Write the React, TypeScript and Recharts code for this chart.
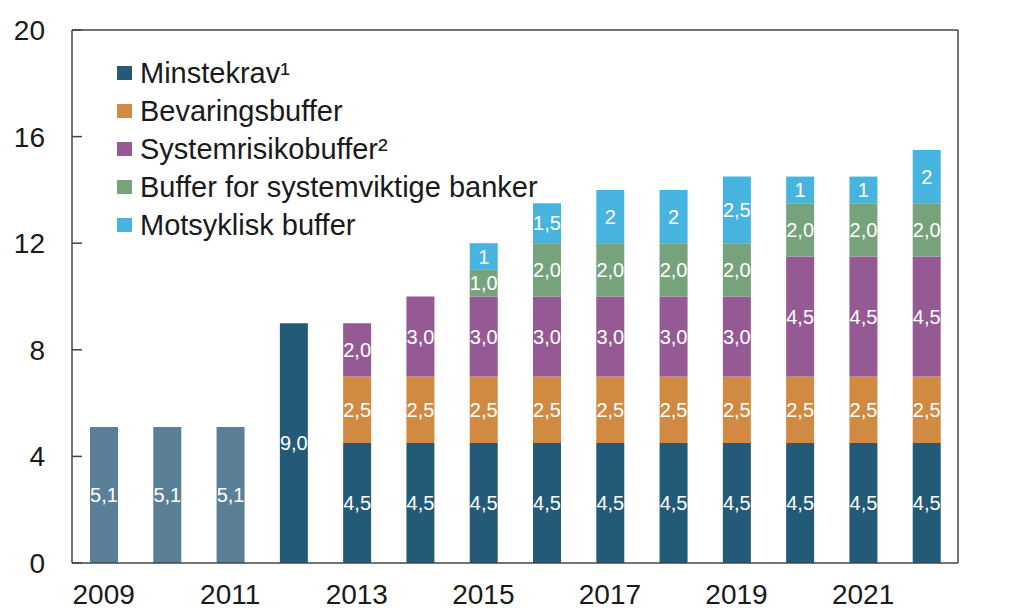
import {
  BarChart,
  Bar,
  XAxis,
  YAxis,
  Cell,
  LabelList,
  ReferenceLine
} from 'recharts';

const years = ['2009', '2010', '2011', '2012', '2013', '2014', '2015', '2016', '2017', '2018', '2019', '2020', '2021', '2022'];
const minstekrav = [5.1, 5.1, 5.1, 9.0, 4.5, 4.5, 4.5, 4.5, 4.5, 4.5, 4.5, 4.5, 4.5, 4.5];
const bevaringsbuffer = [null, null, null, null, 2.5, 2.5, 2.5, 2.5, 2.5, 2.5, 2.5, 2.5, 2.5, 2.5];
const systemrisikobuffer = [null, null, null, null, 2.0, 3.0, 3.0, 3.0, 3.0, 3.0, 3.0, 4.5, 4.5, 4.5];
const systemviktige = [null, null, null, null, null, null, 1.0, 2.0, 2.0, 2.0, 2.0, 2.0, 2.0, 2.0];
const motsyklisk = [null, null, null, null, null, null, 1, 1.5, 2, 2, 2.5, 1, 1, 2];
const yTicks = [0, 4, 8, 12, 16, 20];

const EARLY = '#5b7f97';
const COLORS = {
  minstekrav: '#235a78',
  bevaring: '#d08a42',
  systemrisiko: '#955a93',
  systemviktige: '#76a37b',
  motsyklisk: '#47b4e0'
};

const legendItems = [
  { label: 'Minstekrav¹', color: COLORS.minstekrav },
  { label: 'Bevaringsbuffer', color: COLORS.bevaring },
  { label: 'Systemrisikobuffer²', color: COLORS.systemrisiko },
  { label: 'Buffer for systemviktige banker', color: COLORS.systemviktige },
  { label: 'Motsyklisk buffer', color: COLORS.motsyklisk }
];

const data = years.map((year, i) => ({
  year,
  minstekrav: minstekrav[i],
  bevaring: bevaringsbuffer[i],
  systemrisiko: systemrisikobuffer[i],
  systemviktige: systemviktige[i],
  motsyklisk: motsyklisk[i]
}));

const FONT = '"Liberation Sans", Arial, sans-serif';
const AXIS = '#444444';
const TEXT = '#1a1a1a';

const fixed1 = (v: any) => (v == null ? '' : Number(v).toFixed(1).replace('.', ','));
const plain = (v: any) => (v == null ? '' : String(v).replace('.', ','));

// ticks point into the plot, so draw them ourselves
const LeftTick = (props: any) => {
  const { x, y, payload } = props;
  return (
    <g>
      <line x1={x} x2={x + 10} y1={y} y2={y} stroke={AXIS} strokeWidth={1.5} />
      <text x={x - 27} y={y} dy="0.355em" textAnchor="end" fontSize={28} fill={TEXT} fontFamily={FONT}>
        {payload.value}
      </text>
    </g>
  );
};

const RightTick = (props: any) => {
  const { x, y, payload } = props;
  return (
    <g>
      <line x1={x - 10} x2={x} y1={y} y2={y} stroke={AXIS} strokeWidth={1.5} />
      <text x={x + 25} y={y} dy="0.355em" textAnchor="start" fontSize={28} fill={TEXT} fontFamily={FONT}>
        {payload.value}
      </text>
    </g>
  );
};

const labelStyle = { fill: '#ffffff', fontSize: 20, fontFamily: FONT };

export default function App() {
  return (
    <div style={{ position: 'absolute', left: 0, top: 0, width: 1017, height: 609, background: '#fff' }}>
      <BarChart
        width={1017}
        height={609}
        data={data}
        margin={{ top: 30, right: 0, left: 0, bottom: 0 }}
      >
        <XAxis
          dataKey="year"
          interval={1}
          height={46}
          tickLine={false}
          tickSize={0}
          tickMargin={21}
          axisLine={{ stroke: AXIS, strokeWidth: 1.5 }}
          tick={{ fill: TEXT, fontSize: 28, fontFamily: FONT }}
        />
        <YAxis
          yAxisId="left"
          orientation="left"
          width={72}
          domain={[0, 20]}
          ticks={yTicks}
          tickLine={false}
          tickSize={0}
          tickMargin={0}
          axisLine={{ stroke: AXIS, strokeWidth: 1.5 }}
          tick={LeftTick}
        />
        <YAxis
          yAxisId="right"
          orientation="right"
          width={59}
          domain={[0, 20]}
          ticks={yTicks}
          tickLine={false}
          tickSize={0}
          tickMargin={0}
          axisLine={{ stroke: AXIS, strokeWidth: 1.5 }}
          tick={RightTick}
        />
        <ReferenceLine yAxisId="left" y={20} stroke={AXIS} strokeWidth={1.5} />
        <Bar yAxisId="left" dataKey="minstekrav" stackId="a" barSize={28} fill={COLORS.minstekrav} isAnimationActive={false}>
          {data.map((d, i) => (
            <Cell key={d.year} fill={i < 3 ? EARLY : COLORS.minstekrav} />
          ))}
          <LabelList dataKey="minstekrav" position="center" formatter={fixed1} style={labelStyle} />
        </Bar>
        <Bar yAxisId="left" dataKey="bevaring" stackId="a" barSize={28} fill={COLORS.bevaring} isAnimationActive={false}>
          <LabelList dataKey="bevaring" position="center" formatter={fixed1} style={labelStyle} />
        </Bar>
        <Bar yAxisId="left" dataKey="systemrisiko" stackId="a" barSize={28} fill={COLORS.systemrisiko} isAnimationActive={false}>
          <LabelList dataKey="systemrisiko" position="center" formatter={fixed1} style={labelStyle} />
        </Bar>
        <Bar yAxisId="left" dataKey="systemviktige" stackId="a" barSize={28} fill={COLORS.systemviktige} isAnimationActive={false}>
          <LabelList dataKey="systemviktige" position="center" formatter={fixed1} style={labelStyle} />
        </Bar>
        <Bar yAxisId="left" dataKey="motsyklisk" stackId="a" barSize={28} fill={COLORS.motsyklisk} isAnimationActive={false}>
          <LabelList dataKey="motsyklisk" position="center" formatter={plain} style={labelStyle} />
        </Bar>
      </BarChart>

      {/* legend sits inside the plot area, top left */}
      <div style={{ position: 'absolute', left: 117, top: 54, fontFamily: FONT }}>
        {legendItems.map((item) => (
          <div key={item.label} style={{ display: 'flex', alignItems: 'center', height: 38 }}>
            <span style={{ width: 15, height: 14, background: item.color, display: 'inline-block', marginRight: 8 }} />
            <span style={{ fontSize: 29, color: TEXT, lineHeight: '38px', whiteSpace: 'nowrap' }}>{item.label}</span>
          </div>
        ))}
      </div>
    </div>
  );
}
